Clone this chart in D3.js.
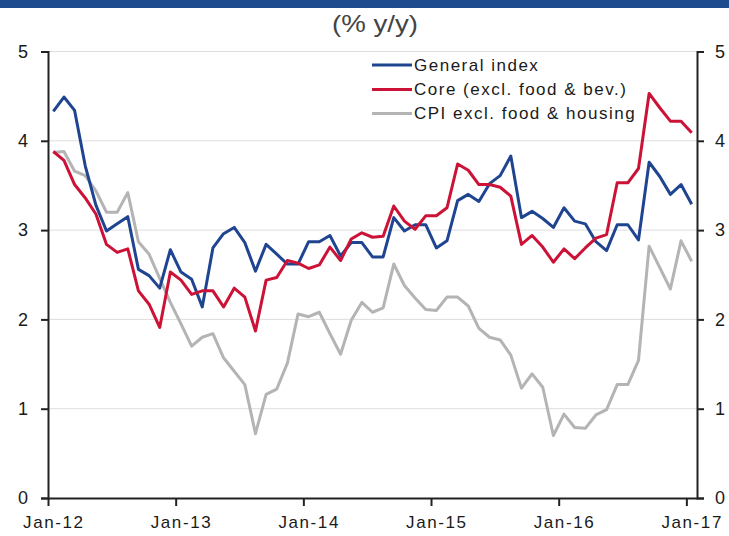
<!DOCTYPE html>
<html>
<head>
<meta charset="utf-8">
<script src="https://cdn.jsdelivr.net/npm/d3@7"></script>
<style>
  html, body { margin: 0; padding: 0; background: #fff; }
  svg { display: block; }
</style>
</head>
<body>
<svg id="chart" width="729" height="536"></svg>
<script>
// ---- Data (monthly, Jan-12 .. Jan-17) ----
const tickLabels = ["Jan-12", "Jan-13", "Jan-14", "Jan-15", "Jan-16", "Jan-17"];
const seriesNames = ["General index", "Core (excl. food & bev.)", "CPI excl. food & housing"];

const generalIndex = [
  4.33, 4.49, 4.34, 3.72, 3.28, 2.99, 3.07, 3.15, 2.56, 2.49, 2.35, 2.78,
  2.53, 2.45, 2.14, 2.80, 2.96, 3.03, 2.86, 2.54, 2.84, 2.73, 2.62, 2.62,
  2.87, 2.87, 2.94, 2.71, 2.86, 2.86, 2.70, 2.70, 3.14, 2.99, 3.06, 3.06,
  2.80, 2.88, 3.33, 3.40, 3.32, 3.52, 3.61, 3.83, 3.14, 3.21, 3.13, 3.03,
  3.25, 3.10, 3.07, 2.87, 2.77, 3.06, 3.06, 2.89, 3.76, 3.60, 3.40, 3.51,
  3.29
];
const coreExFoodBev = [
  3.88, 3.78, 3.51, 3.36, 3.18, 2.84, 2.75, 2.79, 2.32, 2.17, 1.91, 2.53,
  2.44, 2.28, 2.32, 2.32, 2.14, 2.35, 2.25, 1.87, 2.44, 2.47, 2.66, 2.63,
  2.57, 2.61, 2.81, 2.66, 2.90, 2.97, 2.92, 2.93, 3.27, 3.10, 3.01, 3.16,
  3.16, 3.25, 3.74, 3.67, 3.51, 3.51, 3.48, 3.38, 2.84, 2.94, 2.81, 2.64,
  2.79, 2.68, 2.80, 2.91, 2.95, 3.53, 3.53, 3.69, 4.53, 4.37, 4.22, 4.22,
  4.09
];
const cpiExFoodHousing = [
  3.87, 3.88, 3.66, 3.61, 3.44, 3.20, 3.20, 3.42, 2.87, 2.73, 2.46, 2.19,
  1.95, 1.70, 1.80, 1.84, 1.57, 1.42, 1.27, 0.72, 1.16, 1.22, 1.51, 2.06,
  2.03, 2.08, 1.84, 1.61, 1.99, 2.19, 2.08, 2.13, 2.62, 2.38, 2.24, 2.11,
  2.10, 2.25, 2.25, 2.15, 1.90, 1.80, 1.77, 1.60, 1.23, 1.39, 1.24, 0.70,
  0.94, 0.79, 0.78, 0.93, 0.99, 1.27, 1.27, 1.54, 2.82, 2.58, 2.34, 2.88,
  2.65
];
const yTicks = [0, 1, 2, 3, 4, 5];

(function () {
  // ---- Layout ----
  const svg = d3.select("#chart");
  const W = 729;
  const mLeft = 48, mRight = 697, mTop = 51.5, mBottom = 498;
  const nMonths = generalIndex.length; // 61

  const x = d3.scaleLinear().domain([0, nMonths]).range([mLeft, mRight]);
  const y = d3.scaleLinear().domain([0, 5]).range([mBottom, mTop]);

  const colors = ["#1f4591", "#cc1237", "#b4b4b4"];
  const fontFam = "'Liberation Sans', Arial, Helvetica, sans-serif";

  // header bar
  svg.append("rect").attr("x", 0).attr("y", 0).attr("width", W).attr("height", 8)
    .attr("fill", "#1d4b8d");

  // subtitle
  svg.append("text")
    .attr("x", 375).attr("y", 32)
    .attr("text-anchor", "middle")
    .attr("font-family", "'Liberation Sans Narrow', 'Liberation Sans', Arial, sans-serif")
    .attr("font-size", 24)
    .attr("fill", "#444")
    .attr("textLength", 86)
    .attr("lengthAdjust", "spacingAndGlyphs")
    .text("(% y/y)");

  // gridlines
  svg.append("g").selectAll("line")
    .data(yTicks.filter(d => d > 0))
    .join("line")
    .attr("x1", mLeft).attr("x2", mRight)
    .attr("y1", d => y(d)).attr("y2", d => y(d))
    .attr("stroke", "#dedede").attr("stroke-width", 1);

  // left axis
  const gL = svg.append("g").attr("transform", `translate(${mLeft},0)`)
    .call(d3.axisLeft(y).tickValues(yTicks).tickFormat(d3.format("d")).tickSize(7).tickPadding(13));
  // right axis
  const gR = svg.append("g").attr("transform", `translate(${mRight},0)`)
    .call(d3.axisRight(y).tickValues(yTicks).tickFormat(d3.format("d")).tickSize(7).tickPadding(11));
  // bottom axis
  const monthTicks = tickLabels.map((_, i) => i * 12);
  const half = x(0.5) - x(0);
  const gB = svg.append("g").attr("transform", `translate(0,${mBottom})`)
    .call(d3.axisBottom(x).tickValues(monthTicks).tickFormat((d, i) => tickLabels[i])
      .tickSize(8).tickSizeOuter(0).tickPadding(10));

  [gL, gR, gB].forEach(g => {
    g.selectAll(".domain").attr("stroke", "#222").attr("stroke-width", 2);
    g.selectAll(".tick line").attr("stroke", "#222").attr("stroke-width", 2);
    g.selectAll(".tick text").attr("font-family", fontFam).attr("font-size", 18).attr("fill", "#1a1a1a");
  });
  gB.selectAll(".tick text").attr("font-size", 17).attr("dx", half).attr("letter-spacing", "1.6px");

  // lines
  const line = d3.line().x((d, i) => x(i + 0.5)).y(d => y(d));
  const series = [generalIndex, coreExFoodBev, cpiExFoodHousing];
  const drawOrder = [2, 0, 1];
  drawOrder.forEach(k => {
    svg.append("path")
      .datum(series[k])
      .attr("d", line)
      .attr("fill", "none")
      .attr("stroke", colors[k])
      .attr("stroke-width", 3)
      .attr("stroke-linejoin", "round");
  });

  // legend
  const legendY = [65, 89.5, 113.5];
  const lg = svg.append("g");
  seriesNames.forEach((name, k) => {
    lg.append("line")
      .attr("x1", 372).attr("x2", 412)
      .attr("y1", legendY[k]).attr("y2", legendY[k])
      .attr("stroke", colors[k]).attr("stroke-width", 3);
    lg.append("text")
      .attr("x", 414).attr("y", legendY[k])
      .attr("dy", "0.35em")
      .attr("font-family", fontFam)
      .attr("font-size", 17)
      .attr("letter-spacing", "1.5px")
      .attr("fill", "#1a1a1a")
      .text(name);
  });
})();
</script>
</body>
</html>
